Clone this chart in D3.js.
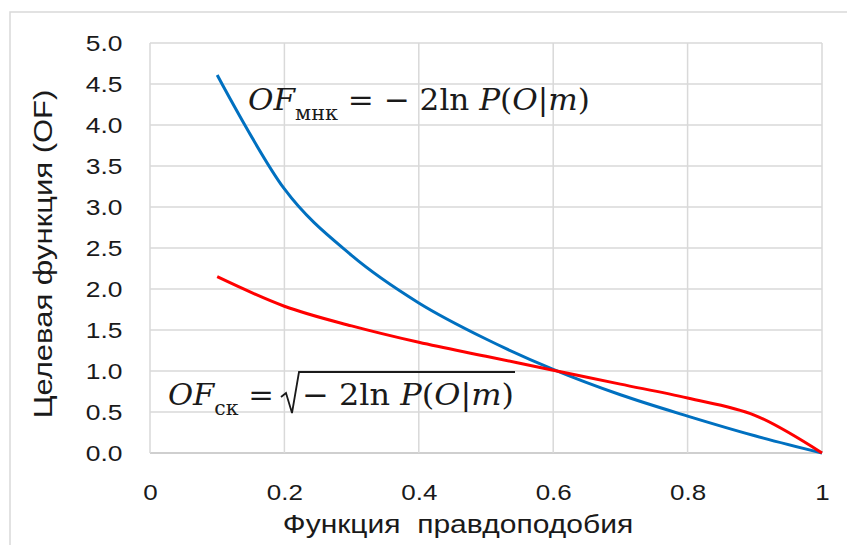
<!DOCTYPE html>
<html>
<head>
<meta charset="utf-8">
<script src="https://cdn.jsdelivr.net/npm/d3@7"></script>
<style>
  body { margin: 0; background: #fff; }
  svg { display: block; }
</style>
</head>
<body>
<svg id="chart" width="847" height="545"></svg>
<script>
// values
const likelihood = [0.1, 0.2, 0.3, 0.4, 0.5, 0.6, 0.7, 0.8, 0.9, 1.0]
const ofMnk = [4.61, 3.22, 2.41, 1.83, 1.39, 1.02, 0.71, 0.45, 0.21, 0]
const ofSk = [2.15, 1.79, 1.55, 1.35, 1.18, 1.01, 0.84, 0.67, 0.46, 0]

const xTicks = [0, 0.2, 0.4, 0.6, 0.8, 1]
const yTicks = [0, 0.5, 1, 1.5, 2, 2.5, 3, 3.5, 4, 4.5, 5]

const svg = d3.select('#chart')
const sans = 'Liberation Sans, Arial, sans-serif'

// outer chart frame
svg.append('rect')
  .attr('x', 10).attr('y', 12)
  .attr('width', 860).attr('height', 560)
  .attr('fill', 'none')
  .attr('stroke', '#d9d9d9')
  .attr('stroke-width', 1.5)

const x = d3.scaleLinear().domain([0, 1]).range([150, 822])
const y = d3.scaleLinear().domain([0, 5]).range([453, 43])

// grid
svg.append('g')
  .selectAll('line')
  .data(yTicks)
  .join('line')
  .attr('x1', x(0)).attr('x2', x(1))
  .attr('y1', d => y(d)).attr('y2', d => y(d))
  .attr('stroke', d => d === 0 ? '#bfbfbf' : '#d9d9d9')
  .attr('stroke-width', 1.5)

svg.append('g')
  .selectAll('line')
  .data(xTicks)
  .join('line')
  .attr('x1', d => x(d)).attr('x2', d => x(d))
  .attr('y1', y(0)).attr('y2', y(5))
  .attr('stroke', '#d9d9d9')
  .attr('stroke-width', 1.5)

// axes (labels only)
const xAxis = svg.append('g')
  .attr('transform', `translate(0,${y(0) + 28})`)
  .call(d3.axisBottom(x).tickValues(xTicks).tickFormat(d => String(d)).tickSize(0))
xAxis.select('.domain').remove()
xAxis.selectAll('text')
  .attr('font-family', sans)
  .attr('font-size', 22)
  .attr('fill', '#1a1a1a')
  .attr('transform', 'scale(1.18,1)')

const yAxis = svg.append('g')
  .attr('transform', `translate(${x(0) - 24},0)`)
  .call(d3.axisLeft(y).tickValues(yTicks).tickFormat(d3.format('.1f')).tickSize(0))
yAxis.select('.domain').remove()
yAxis.selectAll('text')
  .attr('font-family', sans)
  .attr('font-size', 22)
  .attr('fill', '#1a1a1a')
  .attr('transform', 'scale(1.2,1)')

// axis titles
svg.append('text')
  .attr('transform', 'translate(458,533) scale(1.2,1)')
  .attr('text-anchor', 'middle')
  .attr('font-family', sans)
  .attr('font-size', 25)
  .attr('fill', '#1a1a1a')
  .attr('xml:space', 'preserve')
  .text('Функция  правдоподобия')

svg.append('text')
  .attr('transform', 'translate(52,254) rotate(-90) scale(1.24,1)')
  .attr('text-anchor', 'middle')
  .attr('font-family', sans)
  .attr('font-size', 25)
  .attr('fill', '#1a1a1a')
  .text('Целевая функция (OF)')

// lines
const line = d3.line()
  .x((d, i) => x(likelihood[i]))
  .y(d => y(d))
  .curve(d3.curveCardinal.tension(0))

svg.append('path')
  .datum(ofMnk)
  .attr('d', line)
  .attr('fill', 'none')
  .attr('stroke', '#0070c0')
  .attr('stroke-width', 3)

svg.append('path')
  .datum(ofSk)
  .attr('d', line)
  .attr('fill', 'none')
  .attr('stroke', '#ff0000')
  .attr('stroke-width', 3)

// formulas
const serif = 'DejaVu Serif, Liberation Serif, serif'

function formula(x0, yBase, targetWidth, parts) {
  const t = svg.append('text')
    .attr('x', x0).attr('y', yBase)
    .attr('font-family', serif)
    .attr('font-size', 30)
    .attr('fill', '#1a1a1a')
    .attr('xml:space', 'preserve')
  parts.forEach(p => {
    const s = t.append('tspan').text(p.t)
    if (p.i) s.attr('font-style', 'italic')
    if (p.sub) s.attr('font-size', 20).attr('dy', 10)
    if (p.up) s.attr('dy', -10)
  })
  const w = t.node().getComputedTextLength()
  const k = targetWidth / w
  t.attr('transform', `translate(${x0},0) scale(${k},1) translate(${-x0},0)`)
  return t
}

formula(248, 110, 342, [
  { t: 'OF', i: true },
  { t: 'мнк', sub: true },
  { t: ' = − 2ln ', up: true },
  { t: 'P', i: true },
  { t: '(' },
  { t: 'O', i: true },
  { t: '|' },
  { t: 'm', i: true },
  { t: ')' }
])

formula(168, 405, 106, [
  { t: 'OF', i: true },
  { t: 'ск', sub: true },
  { t: ' =', up: true }
])

formula(302, 405, 212, [
  { t: '− 2ln ' },
  { t: 'P', i: true },
  { t: '(' },
  { t: 'O', i: true },
  { t: '|' },
  { t: 'm', i: true },
  { t: ')' }
])

// radical sign
svg.append('path')
  .attr('d', 'M281,397 L286,393 L292,413 L299,372 L515,372')
  .attr('fill', 'none')
  .attr('stroke', '#1a1a1a')
  .attr('stroke-width', 1.8)
</script>
</body>
</html>
